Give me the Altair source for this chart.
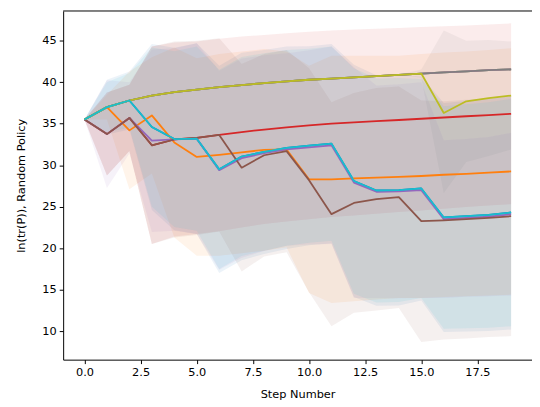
import altair as alt
import pandas as pd

steps = list(range(20))

series_names = ["C0", "C1", "C2", "C3", "C4", "C5", "C6", "C7", "C8", "C9"]
series_colors = ["#1f77b4", "#ff7f0e", "#2ca02c", "#d62728", "#9467bd",
                 "#8c564b", "#e377c2", "#7f7f7f", "#bcbd22", "#17becf"]

# mean paths
top_path = [35.5, 37.0, 37.8, 38.4, 38.8, 39.1, 39.4, 39.65, 39.9, 40.1,
            40.3, 40.45, 40.6, 40.75, 40.9, 41.05, 41.2, 41.3, 41.45, 41.55]
olive_path = [35.5, 37.0, 37.8, 38.4, 38.8, 39.1, 39.4, 39.65, 39.9, 40.1,
              40.3, 40.45, 40.6, 40.75, 40.9, 41.05, 36.3, 37.7, 38.1, 38.4]
orange_path = [35.5, 37.0, 34.2, 36.0, 32.75, 31.0, 31.25, 31.55, 31.85, 31.9,
               28.3, 28.3, 28.4, 28.5, 28.6, 28.7, 28.85, 28.95, 29.1, 29.25]
red_path = [35.5, 33.75, 35.7, 32.4, 33.1, 33.3, 33.65, 34.0, 34.3, 34.55,
            34.8, 35.0, 35.15, 35.3, 35.45, 35.6, 35.75, 35.9, 36.05, 36.2]
brown_path = [35.5, 33.75, 35.7, 32.4, 33.1, 33.3, 33.65, 29.7, 31.2, 31.7,
              28.2, 24.1, 25.45, 25.9, 26.15, 23.25, 23.35, 23.5, 23.65, 23.85]
purple_path = [35.5, 33.75, 35.7, 32.95, 33.1, 33.2, 29.4, 30.85, 31.45, 31.9,
               32.15, 32.4, 27.9, 26.8, 26.85, 27.0, 23.5, 23.65, 23.8, 24.1]
cyan_path = [35.5, 37.0, 37.8, 34.6, 33.15, 33.2, 29.5, 31.05, 31.6, 32.1,
             32.35, 32.6, 28.1, 26.95, 27.0, 27.2, 23.7, 23.85, 24.0, 24.3]

# centre and half-width of the late spread band (steps 15-19)
late_centre = [35.5, 37.0, 37.8, 38.4, 38.8, 39.1, 39.4, 39.65, 39.9, 40.1,
               40.3, 40.45, 40.6, 40.75, 40.9, 41.05, 36.45, 37.7, 38.1, 38.4]
late_w = [0, 0, 0, 0, 0, 0, 0, 0, 0, 0,
          0, 0, 0, 0, 0, 0.5, 9.8, 7.3, 7.0, 6.5]

# half-widths of the shaded bands
blue_w = [0, 3.3, 3.5, 10.0, 11.0, 11.5, 12.5, 12.5, 12.3, 12.2,
          12.0, 12.0, 14.0, 13.9, 13.9, 13.5, 13.8, 13.9, 14.0, 14.1]
cyan_w = [0, 3.0, 3.3, 9.6, 10.6, 11.1, 12.0, 12.0, 11.9, 11.8,
          11.7, 11.7, 13.6, 13.5, 13.5, 13.2, 13.4, 13.5, 13.6, 13.7]
orange_w = [0, 1.5, 7.1, 7.0, 11.45, 11.9, 12.15, 12.15, 12.15, 11.8,
            13.7, 14.9, 14.8, 14.7, 14.6, 14.7, 14.75, 14.75, 14.8, 14.85]
red_w = [0, 5.0, 4.0, 11.9, 11.7, 11.6, 11.6, 11.5, 11.4, 11.35,
         11.3, 11.25, 11.2, 11.15, 11.1, 11.05, 11.0, 10.95, 10.9, 10.9]
purple_w = [0, 6.5, 4.3, 11.0, 11.0, 11.5, 12.0, 12.0, 11.8, 11.6,
            11.7, 11.9, 13.9, 12.8, 12.9, 13.0, 9.5, 9.5, 9.6, 9.8]
brown_w = [0, 5.0, 4.0, 11.9, 11.8, 11.7, 11.65, 12.5, 12.2, 12.2,
           13.5, 13.5, 13.25, 13.4, 13.35, 14.55, 14.35, 14.4, 14.35, 14.45]

x_ticks = [0, 2.5, 5, 7.5, 10, 12.5, 15, 17.5]
y_ticks = [10, 15, 20, 25, 30, 35, 40, 45]

means = {"C0": cyan_path, "C1": orange_path, "C2": top_path, "C3": red_path,
         "C4": purple_path, "C5": brown_path, "C6": top_path, "C7": top_path,
         "C8": olive_path, "C9": cyan_path}
band_centres = {"C0": cyan_path, "C1": orange_path, "C3": red_path,
                "C4": purple_path, "C5": brown_path, "C7": late_centre,
                "C9": cyan_path}
widths = {"C0": blue_w, "C1": orange_w, "C3": red_w, "C4": purple_w,
          "C5": brown_w, "C7": late_w, "C9": cyan_w}

band_rows = []
for name in series_names:
    if name not in widths:
        continue
    for s, m, w in zip(steps, band_centres[name], widths[name]):
        band_rows.append({"series": name, "step": s, "lo": m - w, "hi": m + w})
bands = pd.DataFrame(band_rows)

FONT = "DejaVu Sans"
W, H = 476, 354
xscale = alt.Scale(domain=[-0.95, 19.93], nice=False, zero=False)
yscale = alt.Scale(domain=[6.56, 48.59], nice=False, zero=False)
color_scale = alt.Scale(domain=series_names, range=series_colors)

x_axis = alt.Axis(values=x_ticks, format=".1f", title="Step Number", grid=False,
                  titleX=238, titleY=35, titleBaseline="middle")
y_axis = alt.Axis(values=y_ticks, format="d", title="ln(tr(P)), Random Policy",
                  grid=False, titleX=-42, titleY=H / 2, titleBaseline="middle",
                  titleAngle=270)

band_layer = alt.Chart(bands).mark_area(opacity=0.085).encode(
    x=alt.X("step:Q", scale=xscale, axis=x_axis),
    y=alt.Y("lo:Q", scale=yscale, axis=y_axis, stack=None),
    y2="hi:Q",
    color=alt.Color("series:N", scale=color_scale, legend=None),
    detail="series:N",
)

layers = [band_layer]
for name, col in zip(series_names, series_colors):
    df = pd.DataFrame({"step": steps, "value": means[name]})
    layers.append(
        alt.Chart(df).mark_line(color=col, strokeWidth=1.8, strokeJoin="round").encode(
            x=alt.X("step:Q", scale=xscale, axis=x_axis),
            y=alt.Y("value:Q", scale=yscale, axis=y_axis),
        )
    )

top_border = alt.Chart(pd.DataFrame({"a": [0]})).mark_rule(color="black", strokeWidth=1).encode(
    x=alt.value(0), x2=alt.value(W), y=alt.value(0)
)
layers.append(top_border)

chart = alt.layer(*layers).properties(
    width=W, height=H, autosize="none",
    padding={"left": 56, "top": 0, "right": 0, "bottom": 43},
).configure_view(stroke=None).configure_axis(
    labelFont=FONT, titleFont=FONT, labelFontSize=11.5, titleFontSize=11.5,
    labelColor="black", titleColor="black", titleFontWeight="normal",
    domainColor="black", tickColor="black", domainWidth=1, tickWidth=1,
    tickSize=4, labelPadding=3,
)

chart.save("out.html", embed_options={"renderer": "svg", "actions": False})
